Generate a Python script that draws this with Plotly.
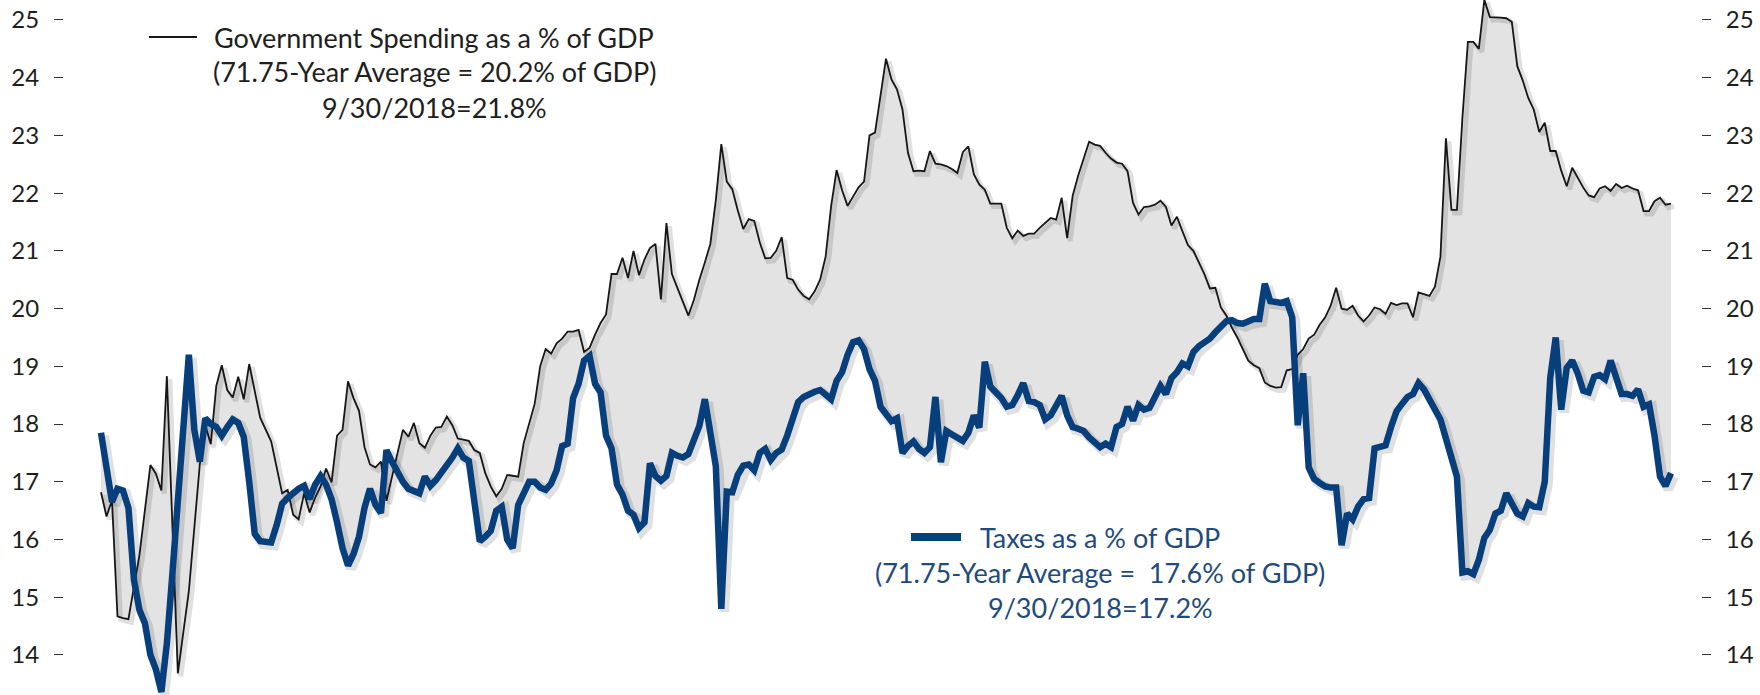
import plotly.graph_objects as go

# ---------------- data (quarter index from 1947Q1, % of GDP) ----------------
gov_q = [0, 1, 2, 3, 4, 5, 7, 9, 10, 11, 12, 14, 16, 18, 19, 20, 21, 22, 23, 24,
         25, 26, 27, 28, 29, 31, 33, 34, 35, 36, 37, 38, 39, 40, 41, 42, 43, 44, 45, 46,
         47, 48, 49, 50, 51, 52, 55] + list(range(56, 287))
gov_v = [16.82, 16.40, 16.68, 14.67, 14.64, 14.62, 15.73, 17.29, 17.14, 16.85,
         18.83, 13.68, 15.10, 17.30, 17.98, 17.65, 18.66, 19.02, 18.59, 18.46,
         18.82, 18.43, 19.04, 18.59, 18.11, 17.70, 16.80, 16.86, 16.43, 16.35,
         16.80, 16.47, 16.72, 16.92, 17.23, 16.99, 17.80, 17.90, 18.74, 18.45,
         18.23, 17.60, 17.30, 17.25, 17.35, 16.67, 17.90,
         # q56 ..
         17.78, 18.02, 17.67, 17.59, 17.80, 17.94, 17.95, 18.13, 17.98, 17.75,
         17.73, 17.71, 17.55, 17.50, 17.15, 16.92, 16.75, 16.88, 17.12, 17.10,
         17.09, 17.67, 18.02, 18.35, 19.00, 19.30, 19.22, 19.40, 19.48, 19.60,
         19.60, 19.63, 19.25, 19.32, 19.55, 19.75, 19.90, 20.60, 20.60, 20.88,
         20.53, 21.00, 20.58, 20.85, 21.05, 21.12, 20.16, 21.48, 20.60, 20.35,
         20.10, 19.88, 20.15, 20.50, 20.80, 21.12, 21.88, 22.85, 22.20, 22.07,
         21.70, 21.38, 21.55, 21.52, 21.15, 20.87, 20.88, 21.00, 21.24, 20.53,
         20.50, 20.33, 20.22, 20.16, 20.30, 20.50, 20.90, 21.77, 22.40, 22.05,
         21.78, 21.95, 22.10, 22.20, 23.00, 23.05, 23.70, 24.33, 23.97, 23.80,
         23.45, 22.70, 22.38, 22.39, 22.38, 22.73, 22.51, 22.50, 22.47, 22.42,
         22.35, 22.71, 22.81, 22.33, 22.15, 22.06, 21.82, 21.82, 21.82, 21.40,
         21.22, 21.35, 21.26, 21.30, 21.30, 21.40, 21.48, 21.57, 21.54, 21.92,
         21.22, 21.95, 22.30, 22.60, 22.89, 22.84, 22.82, 22.70, 22.60, 22.53,
         22.51, 22.38, 21.83, 21.63, 21.76, 21.77, 21.80, 21.87, 21.76, 21.44,
         21.59, 21.34, 21.10, 21.00, 20.80, 20.60, 20.35, 20.36, 20.02, 19.88,
         19.67, 19.50, 19.30, 19.10, 19.02, 18.97, 18.72, 18.66, 18.63, 18.64,
         18.93, 18.95, 19.20, 19.30, 19.48, 19.55, 19.72, 19.85, 20.05, 20.36,
         20.00, 19.98, 20.05, 19.88, 19.78, 19.88, 20.02, 19.99, 19.91, 20.10,
         20.06, 20.09, 20.09, 19.85, 20.28, 20.25, 20.22, 20.38, 20.90, 22.95,
         21.71, 21.71, 23.30, 24.62, 24.62, 24.50, 25.35, 25.05, 25.05, 25.04,
         25.03, 24.97, 24.20, 23.95, 23.65, 23.45, 23.06, 23.22, 22.73, 22.73,
         22.39, 22.12, 22.44, 22.27, 22.10, 21.96, 21.93, 22.08, 22.12, 22.04,
         22.16, 22.09, 22.13, 22.08, 22.05, 21.69, 21.69, 21.86, 21.92, 21.80,
         21.82]

tax_q = list(range(0, 68)) + list(range(69, 287))
tax_v = [17.85, 17.30, 16.65, 16.88, 16.85, 16.55, 15.30, 14.78, 14.55, 14.00,
         13.75, 13.36, 14.20, 15.40, 16.60, 17.67, 19.20, 17.90, 17.35, 18.10,
         18.00, 17.95, 17.80, 17.95, 18.08, 18.02, 17.78, 17.00, 16.10, 15.97,
         15.95, 15.95, 16.25, 16.62, 16.72, 16.82, 16.88, 16.93, 16.70, 16.95,
         17.10, 16.95, 16.70, 16.30, 15.85, 15.55, 15.75, 16.05, 16.55, 16.88,
         16.60, 16.46, 17.55, 17.35, 17.15, 17.00, 16.88, 16.83, 16.80, 17.09,
         16.93, 17.03, 17.15, 17.28, 17.42, 17.58, 17.42, 17.36,
         # q69 ..
         15.97, 16.05, 16.15, 16.50, 16.57, 16.00, 15.85, 16.60, 16.80, 17.00,
         17.00, 16.90, 16.86, 16.97, 17.20, 17.62, 17.66, 18.45, 18.70, 19.10,
         19.18, 18.70, 18.55, 17.80, 17.58, 16.95, 16.78, 16.50, 16.43, 16.20,
         16.30, 17.32, 17.10, 17.02, 17.10, 17.50, 17.45, 17.42, 17.48, 17.75,
         17.97, 18.43, 17.80, 17.27, 14.80, 16.83, 16.82, 17.12, 17.28, 17.30,
         17.20, 17.50, 17.57, 17.38, 17.50, 17.56, 17.80, 18.10, 18.38, 18.47,
         18.53, 18.56, 18.59, 18.52, 18.43, 18.75, 18.90, 19.20, 19.42, 19.45,
         19.30, 18.95, 18.75, 18.30, 18.15, 18.05, 18.10, 17.50, 17.62, 17.70,
         17.57, 17.50, 17.60, 18.47, 17.34, 17.88, 17.82, 17.76, 17.71, 17.85,
         18.15, 17.94, 19.08, 18.65, 18.55, 18.45, 18.30, 18.33, 18.50, 18.71,
         18.40, 18.38, 18.33, 18.08, 18.15, 18.30, 18.49, 18.15, 17.95, 17.92,
         17.88, 17.77, 17.70, 17.60, 17.66, 17.60, 17.95, 18.00, 18.30, 18.06,
         18.33, 18.25, 18.28, 18.47, 18.66, 18.52, 18.80, 18.90, 19.05, 19.00,
         19.25, 19.35, 19.42, 19.48, 19.59, 19.69, 19.78, 19.80, 19.75, 19.74,
         19.78, 19.82, 19.82, 20.43, 20.13, 20.12, 20.10, 20.13, 19.85, 17.98,
         18.88, 17.25, 17.05, 16.98, 16.92, 16.90, 16.90, 15.90, 16.45, 16.35,
         16.57, 16.70, 16.72, 17.58, 17.62, 17.63, 17.95, 18.22, 18.35, 18.47,
         18.52, 18.71, 18.60, 18.42, 18.25, 18.08, 17.75, 17.40, 17.09, 15.43,
         15.45, 15.40, 15.65, 16.03, 16.17, 16.45, 16.50, 16.80, 16.63, 16.45,
         16.40, 16.63, 16.57, 16.56, 17.00, 18.80, 19.50, 18.25, 18.97, 19.10,
         18.88, 18.58, 18.55, 18.82, 18.85, 18.78, 19.10, 18.77, 18.52, 18.52,
         18.49, 18.60, 18.30, 18.34, 17.80, 17.09, 16.93, 17.15]

y_ticks = [14, 15, 16, 17, 18, 19, 20, 21, 22, 23, 24, 25]

gov_label = ["Government Spending as a % of GDP",
             "(71.75-Year Average = 20.2% of GDP)",
             "9/30/2018=21.8%"]
tax_label = ["Taxes as a % of GDP",
             "(71.75-Year Average =  17.6% of GDP)",
             "9/30/2018=17.2%"]

# ---------------- styling ----------------
W, H = 1760, 695
L_PX, R_PX = 64, 1701            # plot area in pixels
FONT = "Lato"
BLUE = "#063f7c"
BLUE_TEXT = "#1f4a7c"
FILL = "#e3e3e3"
TXT = "#1e1e1e"

gov_x = [1947 + q / 4 for q in gov_q]
tax_x = [1947 + q / 4 for q in tax_q]

# axis range so that 1947Q1 sits at px 101 and 2018Q3 at px 1671
px_per_year = (1671 - 101) / 71.5
x0 = 1947 - (101 - L_PX) / px_per_year
x1 = 2018.5 + (R_PX - 1671) / px_per_year
y_lo, y_hi = 13.307, 25.346

# shadow offsets (3px right, 3px down)
dx = 3 / px_per_year
dy = 3 * (y_hi - y_lo) / H

fig = go.Figure()
# fill region between the two series
fig.add_trace(go.Scatter(x=tax_x, y=tax_v, mode="lines", line=dict(width=0),
                         hoverinfo="skip", showlegend=False))
fig.add_trace(go.Scatter(x=gov_x, y=gov_v, mode="lines", line=dict(width=0),
                         fill="tonexty", fillcolor=FILL,
                         hoverinfo="skip", showlegend=False))
# soft shadows
fig.add_trace(go.Scatter(x=[v + dx for v in gov_x], y=[v - dy for v in gov_v],
                         mode="lines", line=dict(color="rgba(0,0,0,0.12)", width=5),
                         hoverinfo="skip", showlegend=False))
fig.add_trace(go.Scatter(x=[v + dx for v in tax_x], y=[v - dy for v in tax_v],
                         mode="lines", line=dict(color="rgba(0,0,0,0.12)", width=10),
                         hoverinfo="skip", showlegend=False))
# main lines
fig.add_trace(go.Scatter(x=gov_x, y=gov_v, mode="lines", name=gov_label[0],
                         line=dict(color="#161616", width=1.8), showlegend=False))
fig.add_trace(go.Scatter(x=tax_x, y=tax_v, mode="lines", name=tax_label[0],
                         line=dict(color=BLUE, width=6.5, shape="linear"),
                         showlegend=False))
# invisible trace for the right axis
fig.add_trace(go.Scatter(x=[gov_x[0]], y=[gov_v[0]], yaxis="y2", mode="markers",
                         marker=dict(opacity=0), hoverinfo="skip", showlegend=False))

axis_common = dict(range=[y_lo, y_hi], tickvals=y_ticks, ticks="outside",
                   ticklen=9, tickwidth=1.3, tickcolor="#333",
                   showgrid=False, zeroline=False, showline=False,
                   tickfont=dict(family=FONT, size=24, color=TXT),
                   ticklabelstandoff=10)

fig.update_layout(
    width=W, height=H,
    margin=dict(l=L_PX, r=W - R_PX, t=0, b=0),
    paper_bgcolor="white", plot_bgcolor="white",
    xaxis=dict(range=[x0, x1], visible=False),
    yaxis=dict(side="left", **axis_common),
    yaxis2=dict(side="right", overlaying="y", **axis_common),
    showlegend=False,
)

def px_x(p):
    return (p - L_PX) / (R_PX - L_PX)

def px_y(p):
    return 1 - p / H

# legend samples (shapes in paper coords)
fig.add_shape(type="line", xref="paper", yref="paper",
              x0=px_x(149), x1=px_x(197), y0=px_y(37), y1=px_y(37),
              line=dict(color="#161616", width=2))
fig.add_shape(type="line", xref="paper", yref="paper",
              x0=px_x(911), x1=px_x(961), y0=px_y(537), y1=px_y(537),
              line=dict(color=BLUE, width=8))

for txt, yy in zip(gov_label, [37, 72, 108]):
    fig.add_annotation(text=txt, xref="paper", yref="paper",
                       x=px_x(434), y=px_y(yy), xanchor="center", yanchor="middle",
                       showarrow=False, font=dict(family=FONT, size=27, color=TXT))
for txt, yy in zip(tax_label, [537, 572, 607]):
    fig.add_annotation(text=txt, xref="paper", yref="paper",
                       x=px_x(1100), y=px_y(yy), xanchor="center", yanchor="middle",
                       showarrow=False, font=dict(family=FONT, size=27, color=BLUE_TEXT))

fig.write_html("out.html")
